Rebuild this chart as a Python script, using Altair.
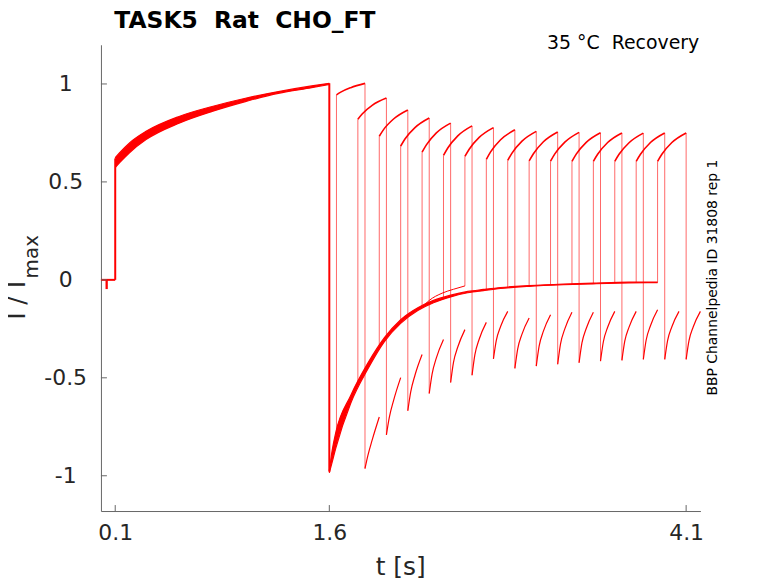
import altair as alt
import pandas as pd

RED = "#ff0000"
AX = "#666666"
TXT = "#262626"
FONT = "DejaVu Sans"

# ---- data ----
# baseline before the prepulse
base_t = [0.0, 0.1]
base_v = [0.0, 0.0]
stub_t = [0.04]
stub_v = [-0.047]

# prepulse band (upper / lower edge of the 16 overlapping sweeps)
pre_t = [0.1, 0.131, 0.2, 0.316, 0.547, 0.779, 1.012, 1.243, 1.476, 1.6]
pre_hi = [0.623, 0.649, 0.699, 0.758, 0.834, 0.885, 0.927, 0.961, 0.990, 1.003]
pre_lo = [0.573, 0.598, 0.649, 0.716, 0.800, 0.860, 0.910, 0.952, 0.981, 0.997]

# recovery bundle after the prepulse
rec_t = [1.6, 1.62, 1.645, 1.75, 1.87, 1.986, 2.1, 2.22, 2.33, 2.45, 2.57, 2.68, 2.8, 3.0, 3.24, 3.47, 3.7, 3.9]
rec_hi = [-0.975, -0.87, -0.78, -0.59, -0.425, -0.295, -0.203, -0.142, -0.105, -0.078, -0.059, -0.049,
          -0.039, -0.029, -0.021, -0.016, -0.012, -0.011]
rec_lo = [-0.985, -0.93, -0.86, -0.63, -0.455, -0.315, -0.222, -0.157, -0.117, -0.087, -0.066, -0.055,
          -0.044, -0.033, -0.025, -0.020, -0.016, -0.014]

# one sweep whose recovery runs a little higher
out_t = [2.25, 2.30, 2.39, 2.47, 2.55]
out_v = [-0.14, -0.105, -0.068, -0.048, -0.031]

# test pulses
test_t0 = [1.65, 1.80, 1.95, 2.10, 2.25, 2.40, 2.55, 2.70, 2.85, 3.00, 3.15, 3.30, 3.45, 3.60, 3.75, 3.90]
rec_at_start = [-0.83, -0.53, -0.335, -0.213, -0.14, -0.09, -0.031, -0.052, -0.04, -0.031, -0.026,
                -0.021, -0.018, -0.014, -0.013, -0.012]
test_off = [0.0, 0.03, 0.10, 0.20]
test_v0 = [0.944, 0.82, 0.733, 0.683, 0.652, 0.635, 0.63, 0.615, 0.61, 0.607, 0.606, 0.605, 0.605, 0.605, 0.605, 0.605]
test_v03 = [0.958, 0.847, 0.767, 0.719, 0.689, 0.673, 0.667, 0.653, 0.647, 0.644, 0.643, 0.642, 0.641, 0.641, 0.641, 0.641]
test_v10 = [0.981, 0.891, 0.821, 0.777, 0.750, 0.735, 0.727, 0.715, 0.708, 0.705, 0.703, 0.702, 0.701, 0.700, 0.701, 0.701]
test_v20 = [1.003, 0.928, 0.867, 0.826, 0.800, 0.786, 0.777, 0.766, 0.758, 0.755, 0.753, 0.751, 0.750, 0.749, 0.750, 0.750]

# tails after the test pulses
tail_off = [0.0, 0.02, 0.05, 0.10]
tail_u0 = [-0.963, -0.791, -0.668, -0.58, -0.524, -0.487, -0.403, -0.452, -0.44, -0.431, -0.423, -0.415, -0.411, -0.406, -0.406, -0.406]
tail_u02 = [-0.897, -0.703, -0.573, -0.481, -0.421, -0.382, -0.309, -0.352, -0.338, -0.327, -0.322, -0.316, -0.313, -0.307, -0.310, -0.310]
tail_u05 = [-0.818, -0.616, -0.487, -0.398, -0.343, -0.303, -0.238, -0.277, -0.262, -0.250, -0.248, -0.242, -0.241, -0.234, -0.239, -0.239]
tail_u10 = [-0.700, -0.499, -0.381, -0.304, -0.254, -0.217, -0.161, -0.195, -0.178, -0.165, -0.165, -0.161, -0.161, -0.153, -0.161, -0.161]

# steps: prepulse onset and end
step_t = [0.1, 1.6]
step_a = [0.0, 1.003]
step_b = [0.62, -0.98]

x_ticks = [0.1, 1.6, 4.1]
y_ticks = [-1, -0.5, 0, 0.5, 1]

# ---- tables ----
pre_df = pd.DataFrame({"t": pre_t, "hi": pre_hi, "lo": pre_lo})
rec_df = pd.DataFrame({"t": rec_t, "hi": rec_hi, "lo": rec_lo})
out_df = pd.DataFrame({"t": out_t, "v": out_v})
base_df = pd.DataFrame({"t": base_t, "v": base_v})
stub_df = pd.DataFrame({"t": stub_t, "a": [0.0], "b": stub_v})
step_df = pd.DataFrame({"t": step_t, "a": step_a, "b": step_b})

tv = [test_v0, test_v03, test_v10, test_v20]
tu = [tail_u0, tail_u02, tail_u05, tail_u10]
test_rows, tail_rows, jump_rows, drop_rows = [], [], [], []
for k, t0 in enumerate(test_t0):
    for j, off in enumerate(test_off):
        test_rows.append({"k": k, "t": t0 + off, "v": tv[j][k]})
    t1 = t0 + test_off[-1]
    for j, off in enumerate(tail_off):
        tail_rows.append({"k": k, "t": t1 + off, "v": tu[j][k]})
    jump_rows.append({"t": t0, "a": rec_at_start[k], "b": test_v0[k]})
    drop_rows.append({"t": t1, "a": test_v20[k], "b": tail_u0[k]})
test_df = pd.DataFrame(test_rows)
tail_df = pd.DataFrame(tail_rows)
jump_df = pd.DataFrame(jump_rows)
drop_df = pd.DataFrame(drop_rows)

W, H = 603, 469
xs = alt.Scale(domain=[0, 4.2], nice=False, zero=False)
ys = alt.Scale(domain=[-1.18, 1.2], nice=False, zero=False)

x_axis = alt.Axis(values=x_ticks, format=".1f", title=None, ticks=False, tickSize=0, grid=False,
                  labelFont=FONT, labelFontSize=22, labelColor=TXT, labelPadding=12,
                  domainColor=AX, domainWidth=1, labelFlush=False, labelOverlap=False)
y_axis = alt.Axis(values=y_ticks, title=None, ticks=False, tickSize=0, grid=False, format="~g",
                  labelExpr="replace(datum.label, '\u2212', '-')",
                  labelFont=FONT, labelFontSize=22, labelColor=TXT, labelPadding=36,
                  labelAlign="center", labelBaseline="middle",
                  domainColor=AX, domainWidth=1, labelFlush=False, labelOverlap=False)


def X(f):
    return alt.X(f, type="quantitative", scale=xs, axis=x_axis)


def Y(f):
    return alt.Y(f, type="quantitative", scale=ys, axis=y_axis)


layers = []
# prepulse band
layers.append(alt.Chart(pre_df).mark_area(color=RED, interpolate="monotone").encode(
    x=X("t"), y=Y("lo"), y2="hi"))
for f in ["hi", "lo"]:
    layers.append(alt.Chart(pre_df).mark_line(color=RED, strokeWidth=1.2, interpolate="monotone").encode(
        x=X("t"), y=Y(f)))
# recovery bundle
layers.append(alt.Chart(rec_df).mark_area(color=RED, interpolate="monotone").encode(
    x=X("t"), y=Y("lo"), y2="hi"))
for f in ["hi", "lo"]:
    layers.append(alt.Chart(rec_df).mark_line(color=RED, strokeWidth=1.2, interpolate="monotone").encode(
        x=X("t"), y=Y(f)))
layers.append(alt.Chart(out_df).mark_line(color=RED, strokeWidth=1, interpolate="monotone").encode(
    x=X("t"), y=Y("v")))
# baseline
layers.append(alt.Chart(base_df).mark_line(color=RED, strokeWidth=2).encode(x=X("t"), y=Y("v")))
layers.append(alt.Chart(stub_df).mark_rule(color=RED, strokeWidth=2.3).encode(x=X("t"), y=Y("a"), y2="b"))
# steps
layers.append(alt.Chart(step_df).mark_rule(color=RED, strokeWidth=2).encode(x=X("t"), y=Y("a"), y2="b"))
# jumps into/out of test pulses
layers.append(alt.Chart(jump_df).mark_rule(color=RED, strokeWidth=1, opacity=0.6).encode(x=X("t"), y=Y("a"), y2="b"))
layers.append(alt.Chart(drop_df).mark_rule(color=RED, strokeWidth=1, opacity=0.6).encode(x=X("t"), y=Y("a"), y2="b"))
# test pulses and tails
layers.append(alt.Chart(test_df).mark_line(color=RED, strokeWidth=1.6, interpolate="monotone").encode(
    x=X("t"), y=Y("v"), detail="k:N"))
layers.append(alt.Chart(tail_df).mark_line(color=RED, strokeWidth=1.2, interpolate="monotone").encode(
    x=X("t"), y=Y("v"), detail="k:N"))

# inward ticks
layers.append(alt.Chart(pd.DataFrame({"t": x_ticks})).mark_rule(color=AX, strokeWidth=1).encode(
    x=X("t"), y=alt.value(H), y2=alt.value(H - 6)))
layers.append(alt.Chart(pd.DataFrame({"v": y_ticks})).mark_rule(color=AX, strokeWidth=1).encode(
    y=Y("v"), x=alt.value(0), x2=alt.value(6)))

one = pd.DataFrame({"a": [0]})


def label(text, x, y, size, angle=0, align="left", weight="normal", color=TXT, baseline="alphabetic"):
    return alt.Chart(one).mark_text(text=text, font=FONT, fontSize=size, angle=angle, align=align,
                                    baseline=baseline, fontWeight=weight, color=color).encode(
        x=alt.value(x), y=alt.value(y))


layers.append(label("TASK5\u00a0 Rat\u00a0 CHO_FT", 13.5, -17.3, 23.5, weight="bold", color="#000000"))
layers.append(label("35 \u00b0C\u00a0 Recovery", 601.8, 4.0, 19, align="right", color="#000000"))
layers.append(label("BBP Channelpedia ID 31808 rep 1", 619.4, 234.2, 14, angle=270, align="center", color="#000000"))
layers.append(label("t [s]", 301.5, 533.5, 25, align="center"))
layers.append(label("I / I", -76.5, 276.7, 25, angle=270))
layers.append(label("max", -63.5, 235.0, 20, angle=270))

chart = alt.layer(*layers).properties(
    width=W, height=H,
    autosize=alt.AutoSizeParams(type="none"),
    padding={"left": 93.5, "top": 35.3, "right": 70, "bottom": 70},
    background="white",
).configure_view(stroke=None)

chart.save("out.html", embed_options={"renderer": "svg", "actions": False})
